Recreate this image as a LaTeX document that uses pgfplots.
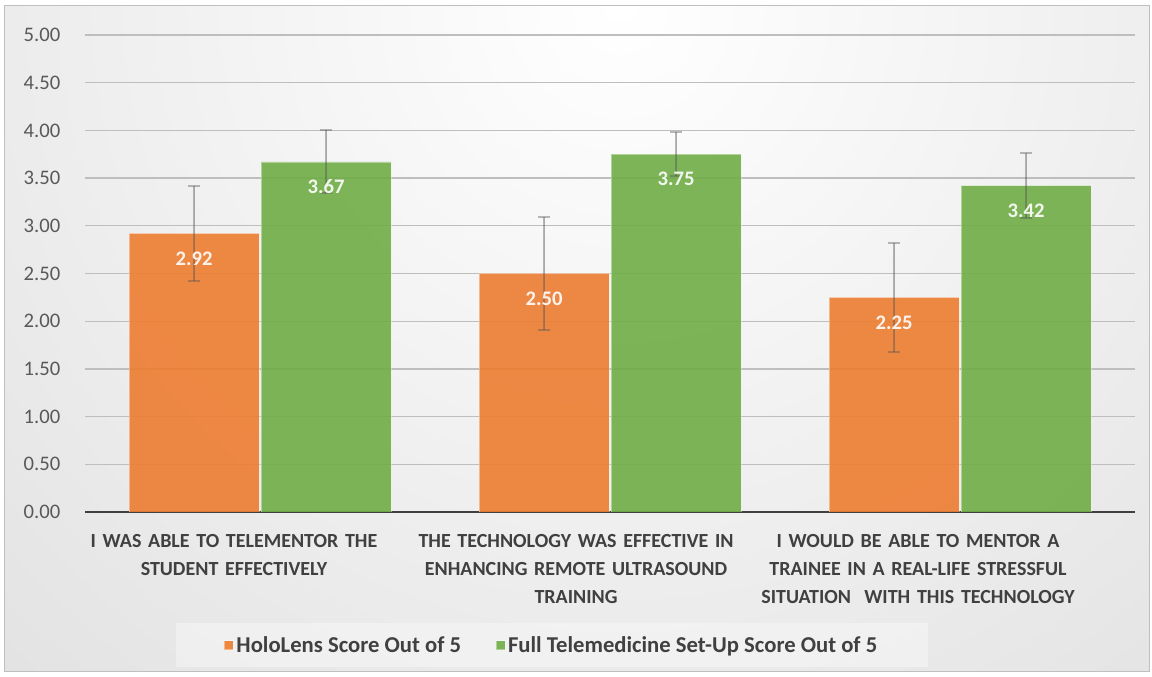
\documentclass[border=0pt]{standalone}
\usepackage{fontspec}
\setmainfont{Carlito}
\usepackage{pgfplots}
\pgfplotsset{compat=1.18}
\usepackage{pgfplotstable}
\definecolor{holo}{RGB}{237,125,49}
\definecolor{full}{RGB}{112,173,71}
\definecolor{ticktxt}{RGB}{89,89,89}
\definecolor{cattxt}{RGB}{64,64,64}
\definecolor{gridc}{RGB}{190,190,190}

% mean score and error half-width
\pgfplotstableread{
x y e
0 2.92 0.50
1 2.50 0.59
2 2.25 0.57
}\holodata
\pgfplotstableread{
x y e
0 3.67 0.33
1 3.75 0.23
2 3.42 0.34
}\fulldata

\begin{document}
\begin{tikzpicture}
% background, in pixel units
\begin{scope}[x=0.75pt,y=0.75pt]
\path (0,0) rectangle (1152,677);
\begin{scope}
\clip (4,5) rectangle (1149,671);
\shade[inner color=white, outer color=black!22] (620,671) circle (1350pt);
\end{scope}
\draw[black!25, line width=0.75pt] (4,5) rectangle (1149,671);
\end{scope}

\begin{axis}[
    at={(63.75pt,123.75pt)}, anchor=south west,
    scale only axis, width=787.5pt, height=357.75pt,
    ybar=1.5pt, bar width=97.5pt,
    xmin=-0.5, xmax=2.5, ymin=0, ymax=5,
    % category labels sit a little left of the bar groups, as in the original
    xtick={-0.0743,0.9029,1.88},
    xticklabels={
        {I WAS ABLE TO TELEMENTOR THE\\STUDENT EFFECTIVELY},
        {THE TECHNOLOGY WAS EFFECTIVE IN\\ENHANCING REMOTE ULTRASOUND\\TRAINING},
        {I WOULD BE ABLE TO MENTOR A\\TRAINEE IN A REAL-LIFE STRESSFUL\\SITUATION\ \ WITH THIS TECHNOLOGY}},
    ytick={0,0.5,1,1.5,2,2.5,3,3.5,4,4.5,5},
    ymajorgrids, grid style={gridc, line width=1pt},
    major tick length=0pt,
    axis x line*=bottom, axis y line*=left,
    x axis line style={black!75, line width=1.5pt, -},
    y axis line style={draw=none},
    yticklabel style={font=\fontsize{15.5}{18}\selectfont, text=ticktxt, xshift=-15pt,
        /pgf/number format/.cd, fixed, fixed zerofill, precision=2, assume math mode=true},
    xticklabel style={font=\fontsize{15}{21}\selectfont\bfseries, text=cattxt,
        text width=255pt, align=center, anchor=north, yshift=-13pt},
    nodes near coords,
    every node near coord/.append style={font=\fontsize{15.5}{18}\selectfont\bfseries,
        text=white, anchor=center, yshift=-18.75pt,
        /pgf/number format/.cd, fixed, fixed zerofill, precision=2, assume math mode=true},
    error bars/y dir=both, error bars/y explicit,
    error bars/error bar style={line width=1.4pt, black!68},
    error bars/error mark options={rotate=90, mark size=4.5pt, line width=1.4pt, black!68},
    legend columns=2,
    legend image code/.code={\fill[#1] (0pt,-3.4pt) rectangle (6.75pt,3.4pt);},
    legend style={at={(0.4448,-0.279)}, anchor=center, draw=none,
        fill=white, fill opacity=0.35, text opacity=1,
        font=\fontsize{17}{19}\selectfont\bfseries, text=cattxt,
        inner xsep=36pt, inner ysep=8pt,
        /tikz/every even column/.append style={column sep=24pt}},
]
\addplot[fill=holo, fill opacity=0.9, draw=white, draw opacity=0.4, line width=0.5pt]
    table[x=x, y=y, y error=e] {\holodata};
\addplot[fill=full, fill opacity=0.9, draw=white, draw opacity=0.4, line width=0.5pt]
    table[x=x, y=y, y error=e] {\fulldata};
\legend{HoloLens Score Out of 5, Full Telemedicine Set-Up Score Out of 5}
\end{axis}
\end{tikzpicture}
\end{document}
